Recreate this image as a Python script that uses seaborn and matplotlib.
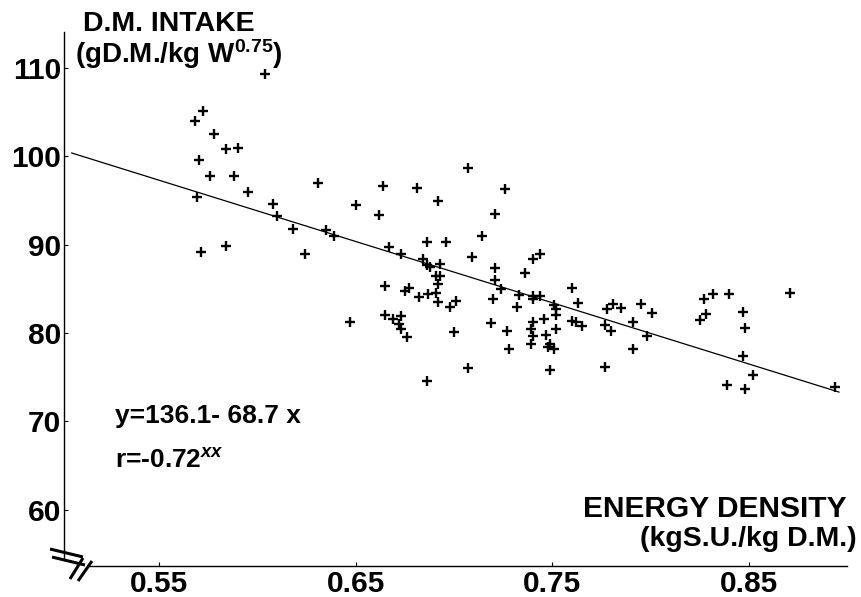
import numpy as np
import pandas as pd
import seaborn as sns
import matplotlib.pyplot as plt

# Energy density (kg S.U./kg D.M.)
energy_density = [0.604, 0.572, 0.568, 0.578, 0.584, 0.590, 0.570, 0.576, 0.588, 0.595,
                  0.569, 0.631, 0.608, 0.610, 0.618, 0.635, 0.639, 0.667, 0.571, 0.584,
                  0.624, 0.650, 0.664, 0.662, 0.673, 0.707, 0.681, 0.726, 0.692, 0.721,
                  0.714, 0.686, 0.696, 0.709, 0.744, 0.740, 0.684, 0.686, 0.688, 0.693,
                  0.721, 0.736, 0.691, 0.693, 0.692, 0.721, 0.724, 0.665, 0.677, 0.675,
                  0.682, 0.687, 0.691, 0.692, 0.701, 0.698, 0.720, 0.732, 0.733, 0.740,
                  0.744, 0.740, 0.751, 0.760, 0.763, 0.752, 0.752, 0.647, 0.665, 0.669,
                  0.673, 0.672, 0.673, 0.676, 0.700, 0.719, 0.727, 0.728, 0.740, 0.746,
                  0.739, 0.740, 0.739, 0.747, 0.752, 0.760, 0.762, 0.765, 0.749, 0.748,
                  0.751, 0.707, 0.749, 0.686, 0.778, 0.781, 0.785, 0.795, 0.801, 0.777,
                  0.780, 0.791, 0.798, 0.791, 0.777, 0.827, 0.832, 0.840, 0.871, 0.825,
                  0.828, 0.847, 0.848, 0.847, 0.852, 0.839, 0.848, 0.894]

# D.M. intake (g D.M./kg W^0.75)
dm_intake = [109.3, 105.1, 104.0, 102.5, 100.8, 101.0, 99.6, 97.8, 97.8, 96.0,
             95.4, 97.0, 94.6, 93.3, 91.8, 91.7, 91.0, 89.7, 89.2, 89.9,
             89.0, 94.5, 96.7, 93.4, 89.0, 98.7, 96.4, 96.3, 94.9, 93.5,
             91.0, 90.3, 90.3, 88.6, 88.9, 88.4, 88.4, 87.7, 87.5, 87.8,
             87.4, 86.8, 86.5, 86.5, 85.6, 86.0, 85.0, 85.3, 85.1, 84.7,
             84.1, 84.4, 84.5, 83.5, 83.6, 83.0, 83.8, 83.0, 84.3, 84.2,
             84.2, 83.8, 83.2, 85.1, 83.4, 82.7, 82.0, 81.3, 82.0, 81.6,
             81.9, 81.0, 80.4, 79.6, 80.1, 81.1, 80.2, 78.2, 81.3, 81.6,
             80.5, 79.7, 78.7, 79.8, 80.4, 81.4, 81.3, 80.8, 78.8, 78.4,
             78.2, 76.0, 75.8, 74.6, 82.7, 83.3, 82.8, 83.3, 82.3, 80.9,
             80.2, 81.2, 79.7, 78.2, 76.1, 83.8, 84.4, 84.4, 84.5, 81.5,
             82.1, 82.4, 80.6, 77.4, 75.2, 74.1, 73.7, 73.9]

# regression line end points as drawn in the figure
fit_x = [0.5053, 0.896]
fit_y = [100.4, 73.3]

x_ticks = [0.55, 0.65, 0.75, 0.85]
x_ticklabels = ['0.55', '0.65', '0.75', '0.85']
y_ticks = [60, 70, 80, 90, 100, 110]

df = pd.DataFrame({'energy': energy_density, 'intake': dm_intake})

sns.set_style('ticks')
plt.rcParams['font.family'] = ['Liberation Sans', 'DejaVu Sans']
plt.rcParams['font.weight'] = 'bold'
plt.rcParams['mathtext.fontset'] = 'custom'
plt.rcParams['mathtext.rm'] = 'Liberation Sans:bold'
plt.rcParams['mathtext.it'] = 'Liberation Sans:italic:bold'
for key in ['text.color', 'axes.edgecolor', 'xtick.color', 'ytick.color',
            'axes.labelcolor', 'xtick.labelcolor', 'ytick.labelcolor']:
    plt.rcParams[key] = 'black'

fig = plt.figure(figsize=(8.62, 5.97), dpi=100)
W, H = 862, 597
ax = fig.add_axes([64 / W, 1 - 566 / H, (847 - 64) / W, (566 - 32) / H])

sns.scatterplot(data=df, x='energy', y='intake', marker='+', s=48,
                color='black', linewidth=1.7, ax=ax, zorder=3)
sns.lineplot(x=fit_x, y=fit_y, color='black', lw=0.9, ax=ax)

ax.set_xlim(0.5015, 0.90)
ax.set_ylim(53.6, 114.1)
ax.set_xticks(x_ticks)
ax.set_xticklabels(x_ticklabels)
ax.set_yticks(y_ticks)
ax.set_xlabel('')
ax.set_ylabel('')
ax.tick_params(axis='both', labelsize=21.5, direction='in', length=3, width=0.8,
               colors='black')
ax.tick_params(axis='y', pad=2)
ax.tick_params(axis='x', pad=3)
for lab in ax.get_xticklabels() + ax.get_yticklabels():
    lab.set_fontweight('bold')

for side in ['top', 'right']:
    ax.spines[side].set_visible(False)
ax.spines['left'].set_bounds(54.3, 114.1)
ax.spines['bottom'].set_bounds(0.5136, 0.90)
for side in ['left', 'bottom']:
    ax.spines[side].set_linewidth(1.0)
    ax.spines[side].set_color('black')

# axis break marks at the corner
def px(x, y):
    return x / W, 1 - y / H

for (x0, y0), (x1, y1) in [((50, 549), (83, 557)), ((52, 557), (85, 565)),
                           ((70, 579), (83, 558)), ((78, 581), (92, 561))]:
    a, b = px(x0, y0)
    c, d = px(x1, y1)
    ax.plot([a, c], [b, d], color='black', lw=2.2, transform=fig.transFigure,
            clip_on=False, solid_capstyle='butt')

# axis titles
fig.text(*px(83, 31), 'D.M. INTAKE', fontsize=20.5, fontweight='bold',
         ha='left', va='baseline')
fig.text(*px(75, 63), '(gD.M./kg W$^{0.75}$)', fontsize=20, fontweight='bold',
         ha='left', va='baseline')
fig.text(*px(847, 517), 'ENERGY DENSITY', fontsize=21.5, fontweight='bold',
         ha='right', va='baseline')
fig.text(*px(857, 546), '(kgS.U./kg D.M.)', fontsize=20.5, fontweight='bold',
         ha='right', va='baseline')

# regression equation
fig.text(*px(115, 423), 'y=136.1- 68.7 x', fontsize=19, fontweight='bold',
         ha='left', va='baseline')
fig.text(*px(115, 468), r'r=-0.72$^{\it{xx}}$', fontsize=19, fontweight='bold',
         ha='left', va='baseline')

fig.savefig('out.png', dpi=100)
